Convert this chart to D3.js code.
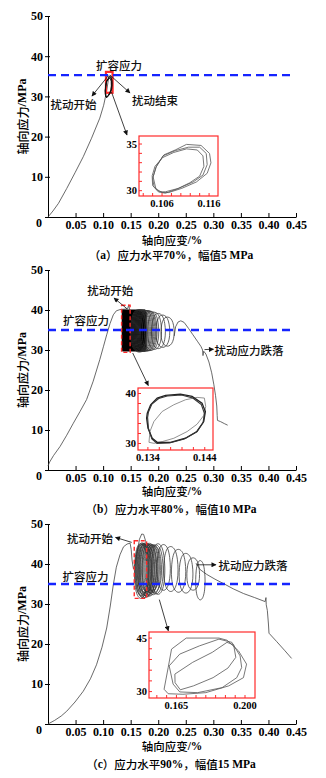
<!DOCTYPE html>
<html><head><meta charset="utf-8">
<script src="https://cdn.jsdelivr.net/npm/d3@7"></script>
<style>
body{margin:0;background:#fff;}
svg{display:block;}
</style></head><body>
<svg id="chart" width="326" height="778"></svg>
<script>
// ---------- shared axes ----------
const strainTicks = [0.05,0.10,0.15,0.20,0.25,0.30,0.35,0.40,0.45];
const stressTicks = [0,10,20,30,40,50];
const xTitle = "轴向应变/%";
const yTitle = "轴向应力/MPa";
const captions = ["（a）应力水平70%，幅值5 MPa","（b）应力水平80%，幅值10 MPa","（c）应力水平90%，幅值15 MPa"];
const dilatancyStress = [35.3, 35.0, 35.0];

// ---------- panel (a): 70 %, 5 MPa ----------
const curveA = [[0,0],[0.009,1.5],[0.019,3.4],[0.034,7.1],[0.049,11.0],[0.064,15.0],[0.079,19.6],[0.094,24.6],[0.101,27.8],[0.106,31.0],[0.1095,34.1],[0.1108,35.4]];
const loopA1 = [[0.1041,31.49],[0.1048,32.61],[0.1064,33.84],[0.1088,34.36],[0.1112,34.96],[0.1143,34.85],[0.1161,33.99],[0.1164,32.98],[0.1156,31.86],[0.1133,30.93],[0.1102,30.25],[0.1074,29.80],[0.1061,29.80],[0.1047,30.18]];
const loopA2 = [[0.1040,31.30],[0.1047,32.50],[0.1062,33.73],[0.1088,34.29],[0.1116,34.66],[0.1140,34.66],[0.1154,33.99],[0.1156,32.79],[0.1147,31.67],[0.1126,30.93],[0.1095,30.25],[0.1067,29.88],[0.1054,29.88],[0.1043,30.44]];
const loopA3 = [[0.1039,31.60],[0.1045,32.61],[0.1061,33.54],[0.1085,34.10],[0.1112,34.48],[0.1135,34.36],[0.1147,33.73],[0.1149,32.61],[0.1140,31.56],[0.1119,30.85],[0.1092,30.18],[0.1067,29.73],[0.1052,29.88],[0.1040,30.55]];
const zoomBoxA = [0.1052,0.1172,30.9,36.1];
const insetXTicksA = [0.102,0.104,0.106,0.108,0.110,0.112,0.114,0.116];
const insetXLabelsA = [0.106,0.116];
const insetYTicksA = [30,31,32,33,34,35];
const insetYLabelsA = [30,35];

// ---------- panel (b): 80 %, 10 MPa ----------
const curveB = [[0,1.0],[0.003,2.0],[0.010,3.6],[0.022,5.9],[0.034,8.7],[0.046,11.7],[0.058,14.6],[0.070,17.6],[0.082,22.2],[0.094,27.6],[0.1005,30.8],[0.1065,33.8],[0.1125,36.6],[0.1185,38.8],[0.124,39.8],[0.1306,40.1],[0.138,40.2],[0.1445,40.3],[0.1465,41.3],[0.148,40.1]];
const denseB = [[0.1337,30.2],[0.1337,39.6],[0.1350,40.1],[0.1760,40.1],[0.1790,39.2],[0.1790,30.4],[0.1760,29.6],[0.1350,29.6]];
const loopBLeft   = [0.150,0.152,0.154,0.156,0.158,0.160,0.162,0.164,0.166,0.168,0.171,0.175,0.181,0.188,0.196,0.205];
const loopBRight  = [0.178,0.180,0.182,0.184,0.186,0.188,0.190,0.192,0.194,0.196,0.198,0.201,0.206,0.213,0.221,0.229];
const loopBBottom = [29.6,29.6,29.6,29.7,29.7,29.7,29.8,29.8,29.8,29.9,29.9,30.0,30.2,30.4,30.7,31.0];
const loopBTop    = [40.0,40.0,40.0,40.0,39.9,39.9,39.9,39.8,39.8,39.8,39.7,39.6,39.4,39.1,38.7,38.2];
const tailB = [[0.229,33.5],[0.2315,35.8],[0.236,37.0],[0.241,37.3],[0.247,36.9],[0.255,35.4],[0.263,33.8],[0.271,32.2],[0.2775,30.9],[0.2805,30.0],[0.2812,28.6],[0.2825,29.7],[0.2865,29.0],[0.292,27.0],[0.297,24.3],[0.301,21.3],[0.304,18.6],[0.3062,16.0],[0.307,13.6],[0.3075,12.4],[0.313,12.1],[0.320,11.6],[0.326,11.2]];
const loopB1 = [[0.13378,35.07],[0.13389,36.07],[0.13448,37.75],[0.13564,39.09],[0.13710,39.63],[0.13973,39.89],[0.14177,39.42],[0.14352,38.08],[0.14411,36.41],[0.14382,34.40],[0.14265,32.39],[0.14061,31.05],[0.13798,30.24],[0.13564,30.24],[0.13477,31.05],[0.13401,33.06]];
const loopB2 = [[0.13395,35.2],[0.13410,36.3],[0.13470,37.9],[0.13590,39.0],[0.13740,39.5],[0.13990,39.7],[0.14190,39.1],[0.14340,37.8],[0.14395,36.0],[0.14370,34.2],[0.14250,32.3],[0.14040,30.9],[0.13780,30.1],[0.13560,30.0],[0.13470,30.9],[0.13410,33.0]];
const loopB3 = [[0.13419,30.24],[0.13436,32.39],[0.13506,34.40],[0.13652,36.41],[0.13856,37.75],[0.14061,38.75],[0.14265,39.22],[0.14393,39.09],[0.14417,37.41],[0.14382,35.60],[0.14265,33.86],[0.14090,32.39],[0.13856,31.05],[0.13652,30.38],[0.13506,30.04]];
const zoomBoxB = [0.1335,0.1490,29.4,41.2];
const insetXTicksB = [0.134,0.136,0.138,0.140,0.142,0.144];
const insetXLabelsB = [0.134,0.144];
const insetYTicksB = [30,32,34,36,38,40];
const insetYLabelsB = [30,40];

// ---------- panel (c): 90 %, 15 MPa ----------
const curveC = [[0,0],[0.012,0.9],[0.024,2.0],[0.034,3.2],[0.049,5.5],[0.064,8.2],[0.077,11.3],[0.088,14.8],[0.098,19.2],[0.1065,24.0],[0.113,29.5],[0.1185,34.8],[0.124,39.2],[0.1306,42.3],[0.137,44.3],[0.1435,45.0],[0.149,45.2],[0.151,43.6],[0.1525,41.0],[0.155,38.8],[0.158,39.8],[0.162,43.0],[0.166,46.2],[0.170,47.5],[0.1735,47.4],[0.177,45.8],[0.180,44.8]];
const loopCLeft   = [0.157,0.158,0.159,0.160,0.161,0.162,0.163,0.164,0.165,0.166,0.167,0.168,0.170,0.171,0.172,0.174,0.176,0.178,0.180,0.183,0.188,0.198,0.210,0.224,0.238,0.252,0.268];
const loopCRight  = [0.180,0.182,0.183,0.184,0.186,0.187,0.188,0.189,0.190,0.192,0.193,0.194,0.196,0.197,0.198,0.200,0.202,0.204,0.206,0.209,0.212,0.222,0.236,0.250,0.263,0.275,0.285];
const loopCBottom = [31.5,32.2,31.8,32.6,31.6,33.0,32.2,31.7,32.8,32.0,33.2,31.9,32.5,33.0,32.1,32.8,33.3,32.4,33.0,32.6,32.5,33.5,33.2,33.0,32.8,33.5,31.1];
const loopCTop    = [45.0,44.8,45.2,44.9,45.1,44.7,45.0,44.8,45.2,44.9,44.6,45.0,44.8,45.1,44.7,44.9,44.6,44.8,44.5,44.7,45.0,44.8,44.3,43.6,42.6,41.5,40.8];
const tailC = [[0.2686,40.2],[0.276,38.6],[0.288,37.4],[0.303,36.2],[0.320,35.0],[0.336,33.8],[0.355,32.6],[0.375,31.6],[0.394,30.6],[0.3955,31.6],[0.396,29.8],[0.398,28.4],[0.400,25.0],[0.401,22.7],[0.415,20.6],[0.430,18.3],[0.442,16.4]];
const loopC1 = [[0.1625,41.9],[0.170,45.0],[0.1867,45.0],[0.1908,44.4],[0.1967,41.4],[0.2008,37.7],[0.1992,33.9],[0.1917,31.6],[0.180,29.7],[0.1683,29.25],[0.1608,29.4],[0.1587,30.65],[0.1608,36.75]];
const loopC2 = [[0.1613,37.2],[0.1667,40.5],[0.1767,42.8],[0.1867,44.7],[0.1933,43.8],[0.1975,40.0],[0.1983,36.75],[0.1958,33.9],[0.1883,31.1],[0.1758,29.7],[0.1667,29.9],[0.1633,32.1]];
const loopC3 = [[0.1642,34.9],[0.1733,38.2],[0.1833,41.0],[0.1908,43.8],[0.1942,43.1],[0.1953,39.6],[0.1913,36.6],[0.1837,33.9],[0.1737,31.6],[0.167,30.5],[0.1643,32.5]];
const zoomBoxC = [0.1565,0.1790,31.4,45.8];
const insetXTicksC = [0.155,0.160,0.165,0.170,0.175,0.180,0.185,0.190,0.195,0.200];
const insetXLabelsC = [0.165,0.200];
const insetYTicksC = [30,33,36,39,42,45];
const insetYLabelsC = [30,45];

// normalised outline of one load/unload cycle (u along strain, v along stress)
const cycleShape = [[0.02,0.30],[0.00,0.52],[0.06,0.76],[0.20,0.93],[0.40,1.00],[0.62,0.99],[0.82,0.90],[0.95,0.72],[1.00,0.48],[0.95,0.25],[0.80,0.08],[0.58,0.00],[0.35,0.01],[0.14,0.11]];

// annotations: [label, strain, stress] and arrows [fromStrain, fromStress, toStrain, toStress]
const labelsA = [["扩容应力",0.1288,37.8],["扰动开始",0.0463,28.1],["扰动结束",0.1942,29.2]];
const arrowsA = [[0.1089,35.07,0.0798,30.1],[0.1125,35.3,0.1488,30.85],[0.1152,31.1,0.1433,20.4]];
const labelsB = [["扰动开始",0.113,44.9],["扩容应力",0.069,37.6],["扰动应力跌落",0.3647,29.9]];
const arrowsB = [[0.1439,40.25,0.1198,43.0],[0.2840,30.1,0.3003,30.2],[0.1537,29.25,0.182,21.1]];
const labelsC = [["扰动开始",0.0762,46.5],["扩容应力",0.068,36.9],["扰动应力跌落",0.372,39.8]];
const arrowsC = [[0.1519,45.4,0.1225,46.65],[0.2698,39.8,0.3048,39.8],[0.2020,31.1,0.2183,23.3]];

// ---------- drawing ----------
const svg = d3.select("#chart");
const CJK_RUN = /[\u3000-\u303f\u4e00-\u9fff\uff00-\uffef]+|[^\u3000-\u303f\u4e00-\u9fff\uff00-\uffef]+/g;
const IS_CJK = /[\u3000-\u303f\u4e00-\u9fff\uff00-\uffef]/;
function richText(sel, str) {
  sel.selectAll("tspan").data(str.match(CJK_RUN)).join("tspan")
    .attr("font-family", d => IS_CJK.test(d) ? "'Noto Sans CJK SC'" : "'Liberation Serif'")
    .attr("font-weight", d => IS_CJK.test(d) ? 500 : 700)
    .text(d => d);
}

const defs = svg.append("defs");
defs.append("marker").attr("id","head")
  .attr("viewBox","0 0 10 10").attr("refX",9).attr("refY",5)
  .attr("markerUnits","userSpaceOnUse").attr("markerWidth",6).attr("markerHeight",5)
  .attr("orient","auto")
  .append("path").attr("d","M0,0 L10,5 L0,10 z").attr("fill","#111");

const x = d3.scaleLinear().domain([0,0.45]).range([48,296]);

const panels = [
  { top:16, bottom:217, titleY:239.5, capY:255, dil:dilatancyStress[0], caption:captions[0],
    curves:[curveA], dense:null, cycles:null, polyLoops:[loopA1,loopA2,loopA3], zoomBox:zoomBoxA, zoomDashed:false,
    labels:labelsA, arrows:arrowsA,
    inset:{ box:[139,218,136,196], xd:[0.1011,0.1179], yd:[29.43,35.86],
      xt:insetXTicksA, xl:insetXLabelsA, yt:insetYTicksA, yl:insetYLabelsA,
      loops:[[loopA1,"#555",0.8],[loopA2,"#555",0.8],[loopA3,"#555",0.8]] } },
  { top:270, bottom:470, titleY:491, capY:509, dil:dilatancyStress[1], caption:captions[1],
    curves:[curveB, tailB], dense:denseB,
    cycles:{l:loopBLeft,r:loopBRight,b:loopBBottom,t:loopBTop}, polyLoops:[], zoomBox:zoomBoxB, zoomDashed:true,
    labels:labelsB, arrows:arrowsB,
    inset:{ box:[138,213,388,450], xd:[0.13226,0.14545], yd:[28.7,41.1],
      xt:insetXTicksB, xl:insetXLabelsB, yt:insetYTicksB, yl:insetYLabelsB,
      loops:[[loopB3,"#777",0.8],[loopB1,"#222",1.3],[loopB2,"#333",1.1]] } },
  { top:524, bottom:724, titleY:746, capY:764, dil:dilatancyStress[2], caption:captions[2],
    curves:[curveC, tailC], dense:null,
    cycles:{l:loopCLeft,r:loopCRight,b:loopCBottom,t:loopCTop}, polyLoops:[], zoomBox:zoomBoxC, zoomDashed:true,
    labels:labelsC, arrows:arrowsC,
    inset:{ box:[149,255,632,698], xd:[0.1510,0.2051], yd:[28.2,46.7],
      xt:insetXTicksC, xl:insetXLabelsC, yt:insetYTicksC, yl:insetYLabelsC,
      loops:[[loopC1,"#555",0.8],[loopC2,"#555",0.8],[loopC3,"#555",0.8]] } }
];

panels.forEach(p => {
  const y = d3.scaleLinear().domain([0,50]).range([p.bottom, p.top]);
  const g = svg.append("g");
  const line = d3.line().x(d => x(d[0])).y(d => y(d[1]));

  // axes
  const ya = g.append("g").attr("transform",`translate(${x(0)},0)`)
    .call(d3.axisLeft(y).tickValues(stressTicks).tickSizeInner(3).tickSizeOuter(0).tickPadding(2).tickFormat(d3.format("d")));
  ya.selectAll(".tick line").attr("x1",2);
  ya.selectAll(".tick text").filter(d => d === 0).attr("dy","0.8em").attr("dx","-1");
  const xa = g.append("g").attr("transform",`translate(0,${y(0)})`)
    .call(d3.axisBottom(x).tickValues(strainTicks).tickSizeInner(-4).tickSizeOuter(0).tickPadding(3).tickFormat(d3.format(".2f")));
  [ya, xa].forEach(a => {
    a.select(".domain").attr("stroke","#000").attr("stroke-width",1);
    a.selectAll(".tick line").attr("stroke","#000");
    a.selectAll(".tick text").attr("font-family","'Liberation Serif'").attr("font-weight","bold")
      .attr("font-size",12).attr("fill","#000");
  });

  // titles
  g.append("text").attr("x", (x(0)+x(0.45))/2).attr("y", p.titleY).attr("text-anchor","middle")
    .attr("dominant-baseline","central").attr("font-size",11.5).call(richText, xTitle);
  g.append("text").attr("transform",`translate(22,${(y(0)+y(50))/2}) rotate(-90)`).attr("text-anchor","middle")
    .attr("dominant-baseline","central").attr("font-size",12).call(richText, yTitle);
  g.append("text").attr("x", 171).attr("y", p.capY).attr("text-anchor","middle")
    .attr("dominant-baseline","central").attr("font-size",11.5).call(richText, p.caption);

  // stress–strain path
  p.curves.forEach(c => g.append("path").attr("d", line(c)).attr("fill","none")
    .attr("stroke","#444").attr("stroke-width",0.8));
  if (p.dense) g.append("path").attr("d", line(p.dense) + "Z").attr("fill","#000");
  if (p.cycles) {
    const loopLine = d3.line().x(d => x(d[0])).y(d => y(d[1])).curve(d3.curveCardinalClosed);
    p.cycles.l.forEach((l, i) => {
      const r = p.cycles.r[i], b = p.cycles.b[i], t = p.cycles.t[i];
      const pts = cycleShape.map(([u, v]) => [l + u * (r - l), b + v * (t - b)]);
      g.append("path").attr("d", loopLine(pts)).attr("fill","none")
        .attr("stroke","#333").attr("stroke-width",0.75);
    });
  }

  // zoom window
  const zb = p.zoomBox;
  const zr = g.append("rect").attr("x", x(zb[0])).attr("y", y(zb[3]))
    .attr("width", x(zb[1]) - x(zb[0])).attr("height", y(zb[2]) - y(zb[3]))
    .attr("fill","none").attr("stroke","#ff2a2a");
  if (p.zoomDashed) zr.attr("stroke-width",1.4).attr("stroke-dasharray","4,2.5");
  else zr.attr("stroke-width",2.2);

  const polyLine = d3.line().x(d => x(d[0])).y(d => y(d[1])).curve(d3.curveLinearClosed);
  p.polyLoops.forEach(lp => g.append("path").attr("d", polyLine(lp)).attr("fill","none")
    .attr("stroke","#111").attr("stroke-width",1));

  // dilatancy stress
  g.append("line").attr("x1", x(0)).attr("x2", x(0.44)).attr("y1", y(p.dil)).attr("y2", y(p.dil))
    .attr("stroke","#1524ff").attr("stroke-width",2.3).attr("stroke-dasharray","8,5");

  // arrows and labels
  p.arrows.forEach(a => g.append("line").attr("x1", x(a[0])).attr("y1", y(a[1]))
    .attr("x2", x(a[2])).attr("y2", y(a[3])).attr("stroke","#111").attr("stroke-width",0.8)
    .attr("marker-end","url(#head)"));
  p.labels.forEach(l => g.append("text").attr("x", x(l[1])).attr("y", y(l[2]))
    .attr("text-anchor","middle").attr("dominant-baseline","central").attr("font-size",11.5)
    .attr("fill","#111").call(richText, l[0]));

  // magnified inset
  const ins = p.inset, bx = ins.box;
  const ix = d3.scaleLinear().domain(ins.xd).range([bx[0], bx[1]]);
  const iy = d3.scaleLinear().domain(ins.yd).range([bx[3], bx[2]]);
  const ig = g.append("g");
  ig.append("rect").attr("x", bx[0]).attr("y", bx[2]).attr("width", bx[1]-bx[0]).attr("height", bx[3]-bx[2])
    .attr("fill","#fff");
  const iline = d3.line().x(d => ix(d[0])).y(d => iy(d[1])).curve(d3.curveLinearClosed);
  ins.loops.forEach(([pts, col, w]) => ig.append("path").attr("d", iline(pts)).attr("fill","none")
    .attr("stroke", col).attr("stroke-width", w));
  ins.xt.forEach(t => ig.append("line").attr("x1", ix(t)).attr("x2", ix(t))
    .attr("y1", bx[3]).attr("y2", bx[3]-3).attr("stroke","#ff2a2a").attr("stroke-width",1));
  ins.yt.forEach(t => ig.append("line").attr("x1", bx[0]).attr("x2", bx[0]+3)
    .attr("y1", iy(t)).attr("y2", iy(t)).attr("stroke","#ff2a2a").attr("stroke-width",1));
  ig.append("rect").attr("x", bx[0]).attr("y", bx[2]).attr("width", bx[1]-bx[0]).attr("height", bx[3]-bx[2])
    .attr("fill","none").attr("stroke","#ff2a2a").attr("stroke-width",1.2);
  ins.xl.forEach(t => ig.append("text").attr("x", ix(t)).attr("y", bx[3]+7)
    .attr("text-anchor","middle").attr("dominant-baseline","central")
    .attr("font-family","'Liberation Serif'").attr("font-weight","bold").attr("font-size",10.5)
    .text(d3.format(".3f")(t)));
  ins.yl.forEach(t => ig.append("text").attr("x", bx[0]-2).attr("y", iy(t))
    .attr("text-anchor","end").attr("dominant-baseline","central")
    .attr("font-family","'Liberation Serif'").attr("font-weight","bold").attr("font-size",10.5)
    .text(t));
});
</script>
</body></html>
